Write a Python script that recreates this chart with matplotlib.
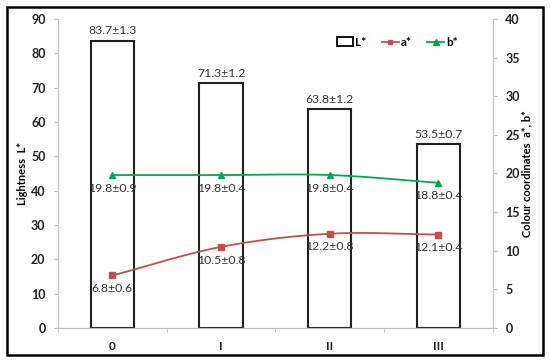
import numpy as np
import matplotlib.pyplot as plt
from matplotlib.patches import Rectangle
from matplotlib.lines import Line2D

plt.rcParams['font.family'] = ['Lato', 'DejaVu Sans']

categories = ["0", "I", "II", "III"]
L_vals = [83.7, 71.3, 63.8, 53.5]
L_err = [1.3, 1.2, 1.2, 0.7]
a_vals = [6.8, 10.5, 12.2, 12.1]
a_err = [0.6, 0.8, 0.8, 0.4]
b_vals = [19.8, 19.8, 19.8, 18.8]
b_err = [0.9, 0.4, 0.4, 0.4]

red = "#C0504D"
green = "#00A84F"
grey = "#BFBFBF"


def smooth(x, y, n=30):
    # catmull-rom through the points, like excel's smoothed line
    x = np.asarray(x, float)
    y = np.asarray(y, float)
    px = np.concatenate([[2 * x[0] - x[1]], x, [2 * x[-1] - x[-2]]])
    py = np.concatenate([[2 * y[0] - y[1]], y, [2 * y[-1] - y[-2]]])
    xs, ys = [], []
    t = np.linspace(0, 1, n)
    for i in range(1, len(px) - 2):
        for p, out in ((px, xs), (py, ys)):
            p0, p1, p2, p3 = p[i - 1], p[i], p[i + 1], p[i + 2]
            out.extend(0.5 * (2 * p1 + (-p0 + p2) * t
                              + (2 * p0 - 5 * p1 + 4 * p2 - p3) * t ** 2
                              + (-p0 + 3 * p1 - 3 * p2 + p3) * t ** 3))
    return np.array(xs), np.array(ys)


fig = plt.figure(figsize=(5.5, 3.63), dpi=100)
ax = fig.add_axes([0.1055, 0.0964, 0.7905, 0.8513])
ax2 = ax.twinx()

x = np.arange(len(categories))
ax.bar(x, L_vals, width=0.4, color="white", edgecolor="#202020", linewidth=1.5, zorder=2)
for xi, v, e in zip(x, L_vals, L_err):
    ax.annotate(f"{v}±{e}", (xi, v), xytext=(0, 7), textcoords="offset points",
                ha="center", va="center", fontsize=8.8, color="#333333")

sx, sy = smooth(x, a_vals)
ax2.plot(sx, sy, color=red, lw=1.3, zorder=3)
ax2.plot(x, a_vals, ls="none", marker="s", ms=4.5, color=red, zorder=4)
sx, sy = smooth(x, b_vals)
ax2.plot(sx, sy, color=green, lw=1.3, zorder=3)
ax2.plot(x, b_vals, ls="none", marker="^", ms=5, color=green, zorder=4)
for vals, errs in ((a_vals, a_err), (b_vals, b_err)):
    for xi, v, e in zip(x, vals, errs):
        ax2.annotate(f"{v}±{e}", (xi, v), xytext=(0, -9.5), textcoords="offset points",
                     ha="center", va="center", fontsize=8.8, color="#333333")

ax.set_xlim(-0.5, 3.5)
ax.set_ylim(0, 90)
ax.set_yticks(range(0, 91, 10))
ax2.set_ylim(0, 40)
ax2.set_yticks(range(0, 41, 5))
ax.set_xticks(x)
ax.set_xticklabels(categories, fontweight="bold", fontsize=8.5)
ax.set_xticks(np.arange(-0.5, 3.6, 1), minor=True)
ax.tick_params(axis="x", which="major", length=0, pad=9)
ax.tick_params(axis="x", which="minor", length=3, color=grey, direction="out")
for a in (ax, ax2):
    a.tick_params(axis="y", length=3, color=grey, labelsize=9, pad=6, labelcolor="#222222")
    for lab in a.get_yticklabels():
        lab.set_fontweight("bold")
    for s in a.spines.values():
        s.set_color(grey)
    a.spines["top"].set_visible(False)
ax.tick_params(axis="x", labelcolor="#222222")
ax2.spines["left"].set_visible(False)
ax.spines["right"].set_visible(False)

ax.set_ylabel("Lightness  L*", fontweight="bold", fontsize=8, labelpad=2)
ax2.set_ylabel("Colour coordinates  a*, b*", fontweight="bold", fontsize=8, labelpad=1)

handles = [
    Rectangle((0, 0), 1, 1, facecolor="white", edgecolor="black", linewidth=1.3),
    Line2D([], [], color=red, marker="s", ms=3.5, lw=1.3),
    Line2D([], [], color=green, marker="^", ms=4, lw=1.3),
]
leg = ax2.legend(handles, ["L*", "a*", "b*"], ncol=3, loc="center", bbox_to_anchor=(0.78, 0.925),
                 frameon=False, handlelength=1.4, handletextpad=0.2, columnspacing=1.3,
                 prop={"weight": "bold", "size": 8.5})

fig.patches.append(Rectangle((7 / 550, 8 / 363), 536 / 550, 348 / 363, transform=fig.transFigure,
                             fill=False, edgecolor="black", linewidth=1.8))

fig.savefig("out.png", dpi=100)
